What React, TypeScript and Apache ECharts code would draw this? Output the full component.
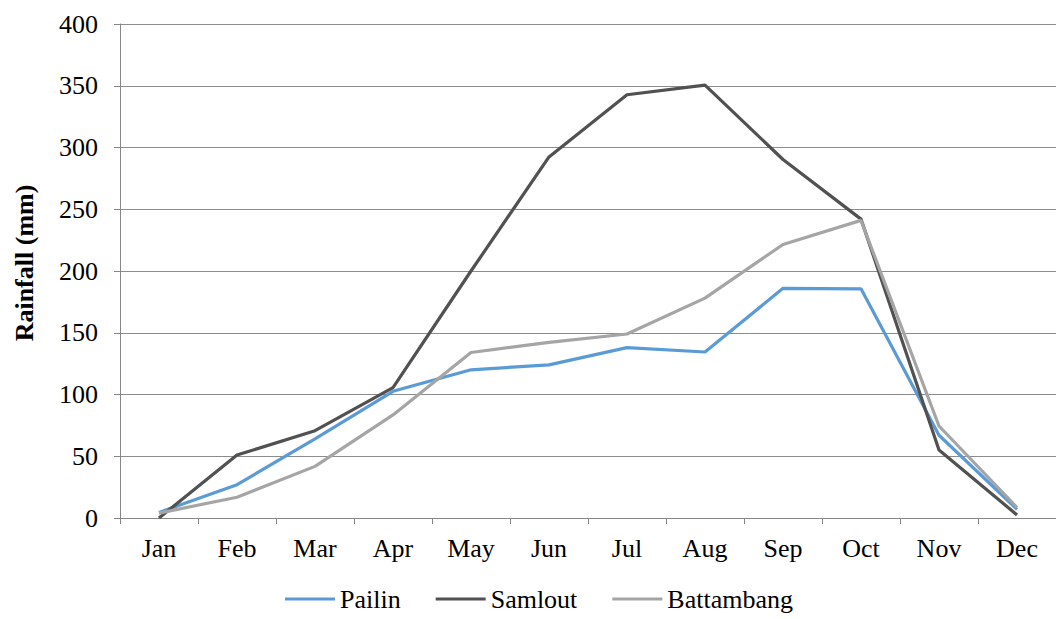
import React, { useEffect, useRef } from "react";
import * as echarts from "echarts";

const months = ["Jan", "Feb", "Mar", "Apr", "May", "Jun", "Jul", "Aug", "Sep", "Oct", "Nov", "Dec"];
const pailin = [4.5, 27, 64, 102.6, 120, 124, 138, 134.4, 186, 185.6, 67, 7];
const samlout = [0, 51, 70.7, 105.6, 200, 292.4, 342.7, 350.5, 290.3, 242, 55, 2.5];
const battambang = [4, 16.8, 41.8, 83.5, 134, 142.2, 149, 178, 221.5, 241, 74.5, 8.5];
const yTicks = { min: 0, max: 400, interval: 50 };

const FONT = "Liberation Serif";

export default function App() {
  const ref = useRef<HTMLDivElement>(null);
  useEffect(() => {
    if (!ref.current) return;
    const chart = echarts.init(ref.current, undefined, { renderer: "svg" });
    const mk = (name: string, data: number[], color: string) => ({
      name,
      type: "line",
      data,
      symbol: "none",
      lineStyle: { color, width: 3.2 },
      itemStyle: { color },
    });
    chart.setOption({
      animation: false,
      backgroundColor: "#ffffff",
      textStyle: { fontFamily: FONT },
      grid: { left: 120, right: -4, top: 24, bottom: 101, containLabel: false },
      graphic: [
        {
          type: "text",
          x: 24,
          y: 263,
          rotation: Math.PI / 2,
          style: {
            text: "Rainfall (mm)",
            fontFamily: FONT,
            fontSize: 26,
            fontWeight: "bold",
            fill: "#000",
            align: "center",
            verticalAlign: "middle",
          },
        },
      ],
      legend: {
        top: 586,
        left: 280,
        icon: "rect",
        itemWidth: 50,
        itemHeight: 3,
        itemGap: 35,
        padding: [0, 5, 0, 5],
        textStyle: { fontFamily: FONT, fontSize: 26, color: "#000" },
        data: ["Pailin", "Samlout", "Battambang"],
      },
      xAxis: {
        type: "category",
        data: months,
        boundaryGap: true,
        axisLine: { lineStyle: { color: "#868686", width: 1 } },
        axisTick: { show: true, length: 6, lineStyle: { color: "#868686" } },
        axisLabel: { fontFamily: FONT, fontSize: 26, color: "#000", margin: 17 },
      },
      yAxis: {
        type: "value",
        min: yTicks.min,
        max: yTicks.max,
        interval: yTicks.interval,
        axisLine: { show: true, lineStyle: { color: "#868686", width: 1 } },
        axisTick: { show: true, length: 6, lineStyle: { color: "#868686" } },
        axisLabel: { fontFamily: FONT, fontSize: 26, color: "#000", margin: 22 },
        splitLine: { show: true, lineStyle: { color: "#8c8c8c", width: 1 } },
      },
      series: [
        mk("Pailin", pailin, "#5B9BD5"),
        mk("Samlout", samlout, "#515151"),
        mk("Battambang", battambang, "#A5A5A5"),
      ],
    });
    return () => chart.dispose();
  }, []);
  return <div ref={ref} style={{ width: 1056, height: 619, position: "absolute", left: 0, top: 0 }} />;
}
